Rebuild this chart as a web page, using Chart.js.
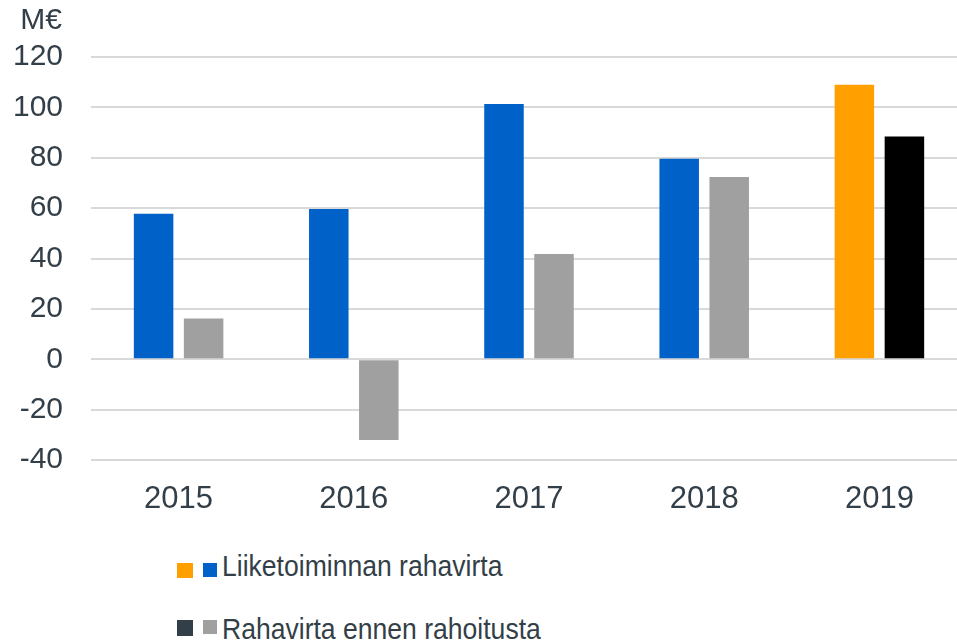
<!DOCTYPE html>
<html>
<head>
<meta charset="utf-8">
<script src="https://cdn.jsdelivr.net/npm/chart.js@4"></script>
<style>
html,body{margin:0;padding:0;background:#fff;overflow:hidden;width:957px;height:640px;}
#wrap{position:relative;width:957px;height:640px;overflow:hidden;font-family:"Liberation Sans",Arial,sans-serif;color:#333f48;}
#c{position:absolute;left:0;top:0;}
.txt{position:absolute;font-size:30px;line-height:30px;white-space:nowrap;}
.leg{transform:scaleX(0.885);transform-origin:0 0;}
.sq{position:absolute;}
</style>
</head>
<body>
<div id="wrap">
<canvas id="c" width="967" height="520" style="width:967px;height:520px;"></canvas>
<div class="txt" style="left:0;top:4px;width:62px;text-align:right;">M€</div>
<div class="sq" style="left:177px;top:563px;width:16px;height:15px;background:#FFA000;"></div>
<div class="sq" style="left:203px;top:563px;width:14px;height:14px;background:#0061C8;"></div>
<div class="txt leg" style="left:222px;top:551px;">Liiketoiminnan rahavirta</div>
<div class="sq" style="left:177px;top:620px;width:16px;height:16px;background:#333F48;"></div>
<div class="sq" style="left:203px;top:620px;width:14px;height:14px;background:#A0A0A0;"></div>
<div class="txt leg" style="left:222px;top:614px;">Rahavirta ennen rahoitusta</div>
</div>
<script>
const categories = ["2015", "2016", "2017", "2018", "2019"];
const seriesNames = ["Liiketoiminnan rahavirta", "Rahavirta ennen rahoitusta"];
const operatingCashFlow = [57.8, 59.7, 101.3, 79.6, 109.0];
const cashFlowBeforeFinancing = [16.2, -32.1, 41.8, 72.4, 88.4];
const yTicks = [-40, -20, 0, 20, 40, 60, 80, 100, 120];

const blue = "#0061C8", orange = "#FFA000", gray = "#A0A0A0", black = "#000000";
const textColor = "#333f48";
const font = {family: "'Liberation Sans', Arial, sans-serif", size: 30};
const xFont = {family: "'Liberation Sans', Arial, sans-serif", size: 31};

new Chart(document.getElementById("c"), {
  type: "bar",
  data: {
    labels: categories,
    datasets: [
      {label: seriesNames[0], data: operatingCashFlow,
       backgroundColor: categories.map((c, i) => i === categories.length - 1 ? orange : blue)},
      {label: seriesNames[1], data: cashFlowBeforeFinancing,
       backgroundColor: categories.map((c, i) => i === categories.length - 1 ? black : gray)}
    ]
  },
  options: {
    responsive: false,
    animation: false,
    devicePixelRatio: 1,
    categoryPercentage: 0.571,
    barPercentage: 0.79,
    layout: {padding: {top: 57, right: 0, bottom: 0, left: 0}},
    plugins: {legend: {display: false}, tooltip: {enabled: false}},
    scales: {
      x: {
        grid: {display: false, drawTicks: false},
        border: {display: false},
        ticks: {color: textColor, font: xFont, padding: 21},
        afterFit(s) { s.height = 60; }
      },
      y: {
        min: yTicks[0], max: yTicks[yTicks.length - 1],
        afterBuildTicks(s) { s.ticks = yTicks.map(v => ({value: v})); },
        grid: {color: "#d9d9d9", lineWidth: 2, drawTicks: false},
        border: {display: false},
        ticks: {color: textColor, font: font, padding: 28},
        afterFit(s) { s.width = 91; }
      }
    }
  }
});
</script>
</body>
</html>
